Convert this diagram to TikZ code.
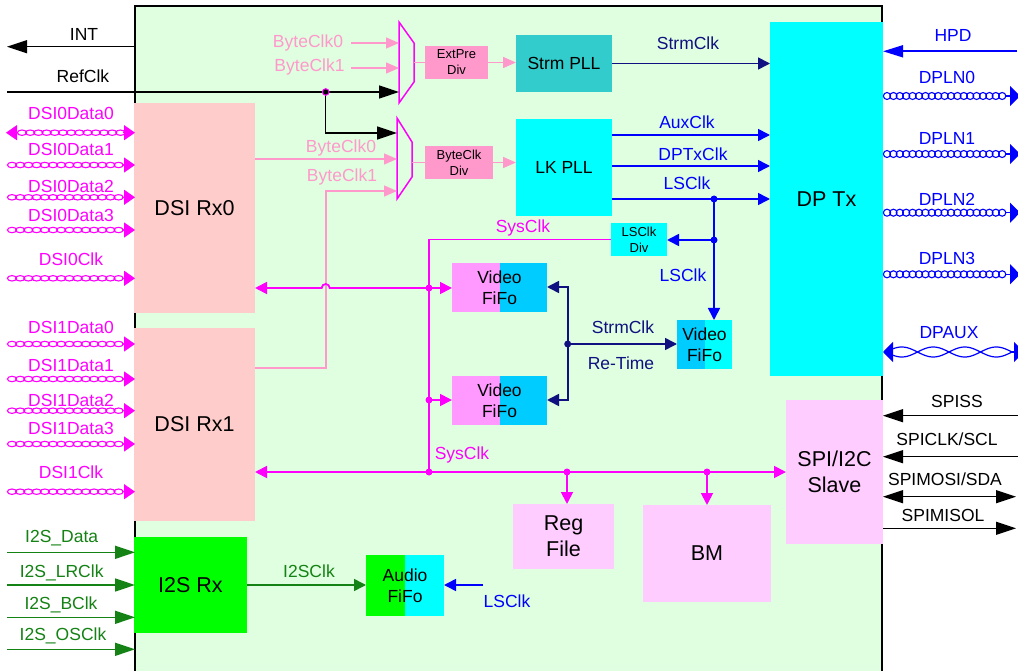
\documentclass[tikz,border=0pt]{standalone}
\usepackage{fontspec}
\setmainfont{Liberation Sans}
\usetikzlibrary{arrows.meta}
\definecolor{bgg}{RGB}{224,255,224}
\definecolor{dsipink}{RGB}{255,204,204}
\definecolor{palepink}{RGB}{255,153,204}
\definecolor{mag}{RGB}{255,0,255}
\definecolor{teal2}{RGB}{51,204,204}
\definecolor{cyan2}{RGB}{0,255,255}
\definecolor{navy2}{RGB}{16,16,128}
\definecolor{blue2}{RGB}{0,0,255}
\definecolor{vpink}{RGB}{255,153,255}
\definecolor{vblue}{RGB}{0,204,255}
\definecolor{lilac}{RGB}{255,204,255}
\definecolor{lime2}{RGB}{0,255,0}
\definecolor{grn}{RGB}{20,130,20}
\tikzset{
  box/.style={anchor=north west, inner sep=0pt, outer sep=0pt, draw=none},
  tl/.style={inner sep=0pt, font=\fontsize{17.5}{21}\selectfont},
  bigf/.style={font=\fontsize{21.5}{26}\selectfont, align=center},
  midf/.style={font=\fontsize{17.5}{21}\selectfont, align=center},
  smallf/.style={font=\fontsize{13}{16}\selectfont, align=center},
  splitc/.style={path picture={\fill[#1] (path picture bounding box.north) rectangle (path picture bounding box.south east);}},
  kline/.style={draw=black, line width=1.4pt},
  magl/.style={draw=mag, line width=1.8pt},
  bluel/.style={draw=blue2, line width=1.6pt},
  navyl/.style={draw=navy2, line width=1.6pt},
  palel/.style={draw=palepink, line width=1.4pt},
  grnl/.style={draw=grn, line width=1.6pt},
  bigtip/.style={-{Triangle[length=20pt,width=13pt]}},
  midtip/.style={-{Triangle[length=12pt,width=12pt]}},
  paletip/.style={-{Triangle[length=13pt,width=11pt]}},
  loopm/.style={draw=mag, line width=1.1pt},
  loopb/.style={draw=blue2, line width=1.1pt},
  mtip/.style={-{Triangle[length=11pt,width=15pt]}},
  btip/.style={-{Triangle[length=10pt,width=20pt]}},
}
\begin{document}
\begin{tikzpicture}[x=1pt,y=-1pt]
\clip (0,0) rectangle (1018,671);
\fill[white] (0,0) rectangle (1018,671);
% chip
\node[box, fill=bgg, draw=black, line width=1.5pt, minimum width=747pt, minimum height=690pt] (chip) at (135,6) {};
% blocks
\node[box, fill=dsipink, minimum width=121pt, minimum height=210pt, bigf] (rx0) at (134,103) {DSI Rx0};
\node[box, fill=dsipink, minimum width=121pt, minimum height=193pt, bigf] (rx1) at (134,328) {DSI Rx1};
\node[box, fill=lime2, minimum width=113pt, minimum height=96pt, bigf] (i2s) at (134,537) {I2S Rx};
\node[box, fill=cyan2, minimum width=113pt, minimum height=354pt, bigf] (dptx) at (770,22) {DP Tx};
\node[box, fill=teal2, minimum width=96pt, minimum height=57pt, midf] (strm) at (516,35) {Strm PLL};
\node[box, fill=cyan2, minimum width=96pt, minimum height=97pt, midf] (lk) at (516,119) {LK PLL};
\node[box, fill=palepink, minimum width=63pt, minimum height=33pt, smallf] (extpre) at (425,46) {ExtPre\\Div};
\node[box, fill=palepink, minimum width=68pt, minimum height=33pt, smallf] (bdiv) at (425,146) {ByteClk\\Div};
\node[box, fill=cyan2, minimum width=56pt, minimum height=33pt, smallf] (lsdiv) at (611,223) {LSClk\\Div};
\node[box, fill=vpink, splitc=vblue, minimum width=95pt, minimum height=49pt, midf] (vf1) at (452,263) {Video\\FiFo};
\node[box, fill=vpink, splitc=vblue, minimum width=95pt, minimum height=49pt, midf] (vf2) at (452,376) {Video\\FiFo};
\node[box, fill=vblue, splitc=cyan2, minimum width=55pt, minimum height=49pt, midf] (vf3) at (677,320) {Video\\FiFo};
\node[box, fill=lime2, splitc=cyan2, minimum width=78pt, minimum height=61pt, midf] (audio) at (366,555) {Audio\\FiFo};
\node[box, fill=lilac, minimum width=97pt, minimum height=144pt, bigf] (spi) at (786,400) {SPI/I2C\\Slave};
\node[box, fill=lilac, minimum width=101pt, minimum height=65pt, bigf] (reg) at (513,504) {Reg\\File};
\node[box, fill=lilac, minimum width=128pt, minimum height=97pt, bigf] (bm) at (643,505) {BM};
% muxes
\node[box, minimum width=15pt, minimum height=81pt] (mux1) at (399,22) {};
\node[box, minimum width=15pt, minimum height=81pt] (mux2) at (397,118) {};
\draw[mag, line width=1.5pt] (mux1.north west) -- ++(15,21) -- ++(0,39) -- (mux1.south west) -- cycle;
\draw[mag, line width=1.5pt] (mux2.north west) -- ++(15,24) -- ++(0,35) -- (mux2.south west) -- cycle;
% coordinates
\coordinate (intp) at (7,46.7);
\coordinate (refp) at (7,92);
\coordinate (rdot) at (325.7,92);
\coordinate (rb) at (325.7,133);
\coordinate (pa0) at (351,43);
\coordinate (pa1) at (351,68);
\coordinate (pb0) at (300,159);
\coordinate (pb1) at (326,368);
\coordinate (pb1t) at (326,191);
% top-left signals
\draw[kline, bigtip] (intp -| chip.west) -- (intp);
\draw[kline, bigtip] (refp) -- (refp -| mux1.west);
\draw[kline, bigtip] (rdot) -- (rb) -- (rb -| mux2.west);
\fill[black] (rdot) circle (3.3);
\draw[mag, line width=1pt] (rdot) circle (3.3);
\draw[palel, paletip] (pa0) -- (pa0 -| mux1.west);
\draw[palel, paletip] (pa1) -- (pa1 -| mux1.west);
\draw[palel, paletip] (pb0 -| rx0.east) -- (pb0 -| mux2.west);
\draw[palel, paletip] (pb1 -| rx1.east) -- (pb1) -- (pb1t) -- (pb1t -| mux2.west);
\draw[palel] (extpre.west -| mux1.east) -- (extpre.west);
\draw[palel] (bdiv.west -| mux2.east) -- (bdiv.west);
\draw[palel, paletip] (extpre.east) -- (extpre.east -| strm.west);
\draw[palel, paletip] (bdiv.east) -- (bdiv.east -| lk.west);
\node[tl, text=palepink] (lb1) at (308,43) {ByteClk0};
\node[tl, text=palepink] (lb2) at (309.5,67) {ByteClk1};
\node[tl, text=palepink] (lb3) at (341,148) {ByteClk0};
\node[tl, text=palepink] (lb4) at (342,177) {ByteClk1};
\node[tl] (lint) at (84,34) {INT};
\node[tl] (lref) at (83,76) {RefClk};
% PLL outputs
\coordinate (c1) at (700,135);
\coordinate (c2) at (700,166);
\coordinate (ls1) at (714,199);
\coordinate (ls2) at (714,240);
\draw[navyl, midtip] (strm.east) -- (strm.east -| dptx.west);
\draw[bluel, midtip] (c1 -| lk.east) -- (c1 -| dptx.west);
\draw[bluel, midtip] (c2 -| lk.east) -- (c2 -| dptx.west);
\draw[bluel, midtip] (ls1 -| lk.east) -- (ls1 -| dptx.west);
\draw[bluel, midtip] (ls1) -- (ls1 |- vf3.north);
\draw[bluel, midtip] (ls2) -- (ls2 -| lsdiv.east);
\fill[blue2] (ls1) circle (3.5);
\fill[blue2] (ls2) circle (3.5);
\node[tl, text=navy2] (lstrm) at (688,43) {StrmClk};
\node[tl, text=blue2] (laux) at (687,122) {AuxClk};
\node[tl, text=blue2] (ldptx) at (693,154) {DPTxClk};
\node[tl, text=blue2] (lls1) at (687,183) {LSClk};
\node[tl, text=blue2] (lls2) at (683,275) {LSClk};
% SysClk network
\coordinate (s0) at (429,239.5);
\coordinate (s1) at (429,288);
\coordinate (s2) at (429,400);
\coordinate (s3) at (429,472);
\coordinate (s4) at (567,472);
\coordinate (s5) at (707,472);
\draw[magl] (lsdiv.west) -- (s0) -- (s3);
\draw[magl, midtip] (s1) -- (s1 -| vf1.west);
\draw[magl, midtip] (s2) -- (s2 -| vf2.west);
\draw[magl, midtip] (s1) -- (329.7,288) arc[start angle=0, end angle=-180, radius=4] -- (s1 -| rx0.east);
\draw[magl, {Triangle[length=12pt,width=12pt]}-{Triangle[length=12pt,width=12pt]}] (s3 -| rx1.east) -- (s3 -| spi.west);
\draw[magl, midtip] (s4) -- (s4 |- reg.north);
\draw[magl, midtip] (s5) -- (s5 |- bm.north);
\foreach \p in {s1,s2,s3,s4,s5} \fill[mag] (\p) circle (3.5);
\node[tl, text=mag] (lsys1) at (523,228) {SysClk};
\node[tl, text=mag] (lsys2) at (462,455) {SysClk};
% Re-Time
\coordinate (r0) at (567.7,344);
\coordinate (r1) at (567.7,287);
\coordinate (r2) at (567.7,400);
\draw[navyl, midtip] (r0) -- (r1) -- (r1 -| vf1.east);
\draw[navyl, midtip] (r0) -- (r2) -- (r2 -| vf2.east);
\draw[navyl, midtip] (r0) -- (r0 -| vf3.west);
\fill[navy2] (r0) circle (3.5);
\node[tl, text=navy2] (lst2) at (623,327) {StrmClk};
\node[tl, text=navy2] (lrt) at (621,363) {Re-Time};
% DSI pins
\foreach \y/\ly/\t [count=\i] in {165/149/DSI0Data1, 197.3/186.7/DSI0Data2, 230/215/DSI0Data3, 278.3/259/DSI0Clk, 344/327/DSI1Data0, 379/365/DSI1Data1, 410.7/400/DSI1Data2, 444/428/DSI1Data3, 491.7/472.7/DSI1Clk} {
  \coordinate (dp\i) at (122,\y);
  \foreach \k in {0,...,13} \draw[loopm] ({12+\k*8.2},\y) ellipse [x radius=4.6, y radius=2.7];
  \draw[loopm, mtip] (dp\i) -- (dp\i -| chip.west);
  \node[tl, text=mag] (dl\i) at (71,\ly) {\t};
}
\coordinate (dp0) at (123,132.7);
\coordinate (dp0l) at (17,132.7);
\foreach \k in {0,...,12} \draw[loopm] ({22+\k*8.2},132.7) ellipse [x radius=4.6, y radius=2.7];
\draw[loopm, mtip] (dp0) -- (dp0 -| chip.west);
\draw[loopm, mtip] (dp0l) -- (6,132.7);
\node[tl, text=mag] (dl0) at (71,113) {DSI0Data0};
% DP pins
\coordinate (hpd) at (1017,51.3);
\draw[bluel, -{Triangle[length=20pt,width=12pt]}] (hpd) -- (hpd -| dptx.east);
\node[tl, text=blue2] (lhpd) at (953,35) {HPD};
\foreach \y/\ly/\t [count=\i] in {96/77/DPLN0, 154/138/DPLN1, 212.7/199/DPLN2, 274.3/258/DPLN3} {
  \coordinate (q\i) at (1020,\y);
  \foreach \k in {0,...,18} \draw[loopb] ({887+\k*6.4},\y) ellipse [x radius=3.6, y radius=3.5];
  \draw[loopb, btip] (q\i -| 1005,0) -- (q\i);
  \node[tl, text=blue2] (ql\i) at (947,\ly) {\t};
}
\coordinate (dpx) at (886,352);
\coordinate (dpxr) at (1012,352);
\draw[blue2, line width=1.3pt, {Triangle[length=10pt,width=20pt]}-] (dptx.east |- dpx) -- (dpx);
\draw[blue2, line width=1.3pt, btip] (dpxr) -- (1024,352);
\draw[blue2, line width=1.2pt, domain=0:4, samples=120, smooth] plot ({886+\x*31.5},{352+5*sin(\x*180)});
\draw[blue2, line width=1.2pt, domain=0:4, samples=120, smooth] plot ({886+\x*31.5},{352-5*sin(\x*180)});
\node[tl, text=blue2] (ldpaux) at (949,333) {DPAUX};
% SPI pins
\coordinate (sp1) at (1018,415.7);
\coordinate (sp2) at (1018,456.7);
\coordinate (sp3) at (1016,496.7);
\coordinate (sp4) at (1016,528.3);
\draw[kline, bigtip] (sp1) -- (sp1 -| spi.east);
\draw[kline, bigtip] (sp2) -- (sp2 -| spi.east);
\draw[kline, {Triangle[length=20pt,width=13pt]}-{Triangle[length=20pt,width=13pt]}] (sp3 -| spi.east) -- (sp3);
\draw[kline, bigtip] (sp4 -| spi.east) -- (sp4);
\node[tl] (lsp1) at (957,401) {SPISS};
\node[tl] (lsp2) at (947,439) {SPICLK/SCL};
\node[tl] (lsp3) at (945,479) {SPIMOSI/SDA};
\node[tl] (lsp4) at (943,515) {SPIMISOL};
% I2S pins
\foreach \y/\ly/\lx/\t [count=\i] in {552.3/538/61.7/I2S\_Data, 585/573/61.7/I2S\_LRClk, 617.3/605/61/I2S\_BClk, 649.3/636/63/I2S\_OSClk} {
  \coordinate (ip\i) at (7,\y);
  \draw[grnl, bigtip] (ip\i) -- (ip\i -| chip.west);
  \node[tl, text=grn] (il\i) at (\lx,\ly) {\t};
}
\draw[grnl, midtip] (i2s.east) -- (i2s.east -| audio.west);
\node[tl, text=grn] (li2sclk) at (309,571) {I2SClk};
\coordinate (la) at (483,585);
\draw[bluel, midtip] (la) -- (la -| audio.east);
\node[tl, text=blue2] (lls3) at (507,601) {LSClk};
\end{tikzpicture}
\end{document}
